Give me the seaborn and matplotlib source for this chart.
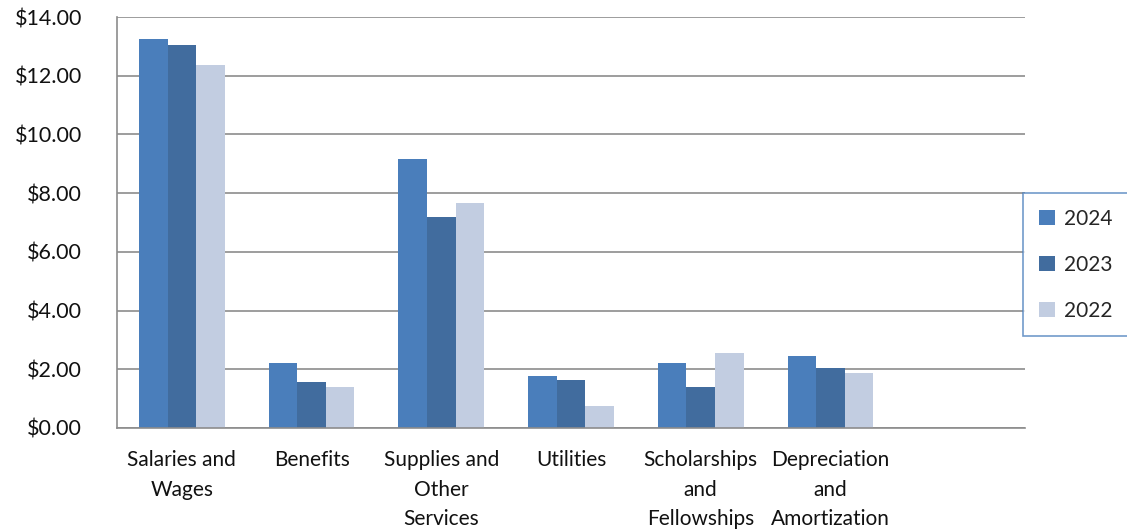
#Grouped bar chart of expenses by category, three fiscal years
import pandas as pd
from matplotlib import pyplot as plt
import seaborn as sns
import matplotlib.ticker as mtick

categories = ['Salaries and\nWages', 'Benefits', 'Supplies and\nOther\nServices', 'Utilities',
              'Scholarships\nand\nFellowships', 'Depreciation\nand\nAmortization']
years = ['2024', '2023', '2022']
values_2024 = [13.25, 2.20, 9.16, 1.78, 2.20, 2.46]
values_2023 = [13.05, 1.58, 7.19, 1.65, 1.38, 2.06]
values_2022 = [12.36, 1.38, 7.66, 0.76, 2.54, 1.86]
colors = ['#4A7EBB', '#416C9E', '#C2CDE1']

df = pd.DataFrame({
    'category': categories * 3,
    'year': [y for y in years for _ in categories],
    'value': values_2024 + values_2023 + values_2022,
})

sns.set_style('white')
plt.rcParams['font.family'] = ['Lato', 'DejaVu Sans']

fig = plt.figure(figsize=(11.27, 5.31), dpi=100)
ax = fig.add_axes([117 / 1127, 1 - 428 / 531, 908 / 1127, 411 / 531])
sns.barplot(data=df, x='category', y='value', hue='year', hue_order=years,
            palette=colors, saturation=1, width=0.66, gap=0, ax=ax, legend=True,
            edgecolor='none', linewidth=0)

ax.set_xlim(-0.5, 6.5)  # one empty slot on the right, as in the original
ax.set_ylim(0, 14)
ax.yaxis.set_major_locator(mtick.MultipleLocator(2))
ax.yaxis.set_major_formatter(mtick.StrMethodFormatter('${x:,.2f}'))
ax.grid(axis='y', color='#8C8C8C', linewidth=1.2)
ax.set_axisbelow(True)
for s in ['top', 'right']:
    ax.spines[s].set_visible(False)
for s in ['left', 'bottom']:
    ax.spines[s].set_color('#8C8C8C')
    ax.spines[s].set_linewidth(1.2)
ax.tick_params(axis='y', length=0, labelsize=15.5, colors='#111111', pad=25)
ax.tick_params(axis='x', length=0, labelsize=15, colors='#111111', pad=16)
for lbl in ax.get_xticklabels():
    lbl.set_linespacing(1.6)
ax.set(xlabel='', ylabel='')

leg = ax.legend(loc='upper left', bbox_to_anchor=(1023 / 1127, 1 - 193 / 531),
                bbox_transform=fig.transFigure, frameon=True, fontsize=15,
                handlelength=0.8, handleheight=0.75, handletextpad=0.4,
                labelspacing=1.25, borderpad=0.75, borderaxespad=0, fancybox=False)
leg.get_frame().set_edgecolor('#4F81BD')
leg.get_frame().set_linewidth(1.2)

fig.savefig('out.png', dpi=100)
